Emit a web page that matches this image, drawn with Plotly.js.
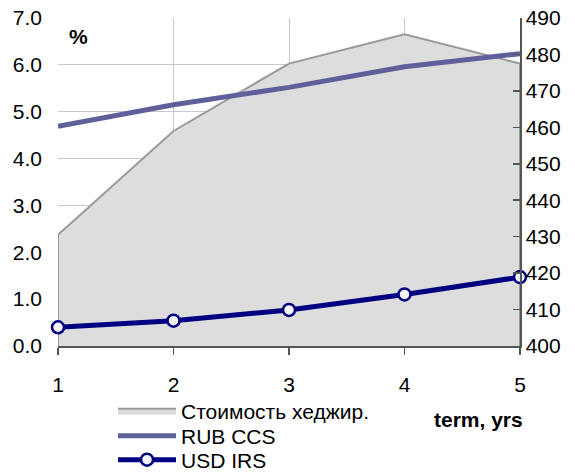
<!DOCTYPE html>
<html>
<head>
<meta charset="utf-8">
<script src="https://cdn.plot.ly/plotly-3.0.1.min.js"></script>
<style>html,body{margin:0;padding:0;background:#fff;}#chart{width:575px;height:472px;}</style>
</head>
<body>
<div id="chart"></div>
<script>
// Data
const terms = [1, 2, 3, 4, 5];
const hedgeCost = [430.5, 459, 477.5, 485.5, 477.5];   // right axis (bp)
const rubCCS = [4.69, 5.15, 5.52, 5.96, 6.24];           // left axis (%)
const usdIRS = [0.40, 0.54, 0.77, 1.10, 1.47];           // left axis (%)
const seriesNames = ['Стоимость хеджир.', 'RUB CCS', 'USD IRS'];
const rightRange = [400, 490];
const leftRange = [0, 7];

const FONT = 'Liberation Sans, Arial, sans-serif';
const PLOT_TOP = 18, PLOT_BOTTOM = 346, PLOT_LEFT = 58, PLOT_RIGHT = 520;
const py = p => (PLOT_BOTTOM - p) / (PLOT_BOTTOM - PLOT_TOP);
const px = p => (p - PLOT_LEFT) / (PLOT_RIGHT - PLOT_LEFT);

// closed polygon for the area (down to the axis baseline)
const areaX = [terms[0]].concat(terms, [terms[terms.length - 1]]);
const areaY = [rightRange[0]].concat(hedgeCost, [rightRange[0]]);

const traces = [
  {
    x: areaX, y: areaY, name: seriesNames[0], type: 'scatter', mode: 'lines',
    fill: 'toself', fillcolor: '#DDDDDD',
    line: {color: '#999999', width: 2}, yaxis: 'y', hoverinfo: 'skip',
    legend: 'legend'
  },
  {
    x: terms, y: rubCCS, name: seriesNames[1], type: 'scatter', mode: 'lines',
    line: {color: '#5F5F9B', width: 5}, yaxis: 'y2', legend: 'legend2'
  },
  {
    x: terms, y: usdIRS, name: seriesNames[2], type: 'scatter', mode: 'lines+markers',
    line: {color: '#000080', width: 5}, yaxis: 'y2', cliponaxis: false,
    marker: {symbol: 'circle', size: 12, color: '#F4F4F4', line: {color: '#000080', width: 2.5}},
    legend: 'legend3'
  }
];

function legendAt(topPx) {
  return {
    xref: 'paper', yref: 'paper',
    x: px(113), y: py(topPx), xanchor: 'left', yanchor: 'top',
    font: {family: FONT, size: 21, color: '#000'},
    bgcolor: 'rgba(0,0,0,0)', borderwidth: 0, itemwidth: 58
  };
}

const layout = {
  width: 575, height: 472,
  margin: {l: PLOT_LEFT, r: 575 - PLOT_RIGHT, t: PLOT_TOP, b: 472 - PLOT_BOTTOM, autoexpand: false},
  paper_bgcolor: '#FFFFFF', plot_bgcolor: '#FFFFFF',
  font: {family: FONT, size: 21, color: '#000000'},
  showlegend: true,
  legend: legendAt(390.5),
  legend2: legendAt(415.5),
  legend3: legendAt(439.5),
  xaxis: {
    range: [1, 5], dtick: 1, tick0: 1,
    showgrid: true, gridcolor: '#C8C8C8', gridwidth: 1,
    showline: true, linecolor: '#555555', linewidth: 1.5,
    ticks: 'outside', ticklen: 7, tickcolor: '#555555', tickwidth: 1.5,
    tickfont: {family: FONT, size: 21, color: '#000'},
    ticklabelstandoff: 12,
    zeroline: false, fixedrange: true
  },
  yaxis: {
    range: rightRange, dtick: 10, tick0: 400, side: 'right',
    showgrid: false, zeroline: false,
    showline: true, linecolor: '#555555', linewidth: 1.5,
    ticks: 'inside', ticklen: 7, tickcolor: '#555555', tickwidth: 1.5,
    tickfont: {family: FONT, size: 21, color: '#000'},
    ticklabelstandoff: 15.5
  },
  yaxis2: {
    range: leftRange, dtick: 1, tick0: 0, side: 'left', overlaying: 'y',
    tickformat: '.1f', showgrid: true, gridcolor: '#C8C8C8', gridwidth: 1,
    zeroline: false, showline: false, ticks: '',
    tickfont: {family: FONT, size: 21, color: '#000'},
    ticklabelstandoff: 15
  },
  annotations: [
    {text: '<b>%</b>', xref: 'paper', yref: 'paper', x: px(67), y: py(36),
     xanchor: 'left', yanchor: 'middle', showarrow: false,
     font: {family: FONT, size: 21, color: '#000'}},
    {text: '<b>term, yrs</b>', xref: 'paper', yref: 'paper', x: px(525), y: py(419),
     xanchor: 'right', yanchor: 'middle', showarrow: false,
     font: {family: FONT, size: 21, color: '#000'}}
  ]
};

Plotly.newPlot('chart', traces, layout, {staticPlot: true, displayModeBar: false});
</script>
</body>
</html>
